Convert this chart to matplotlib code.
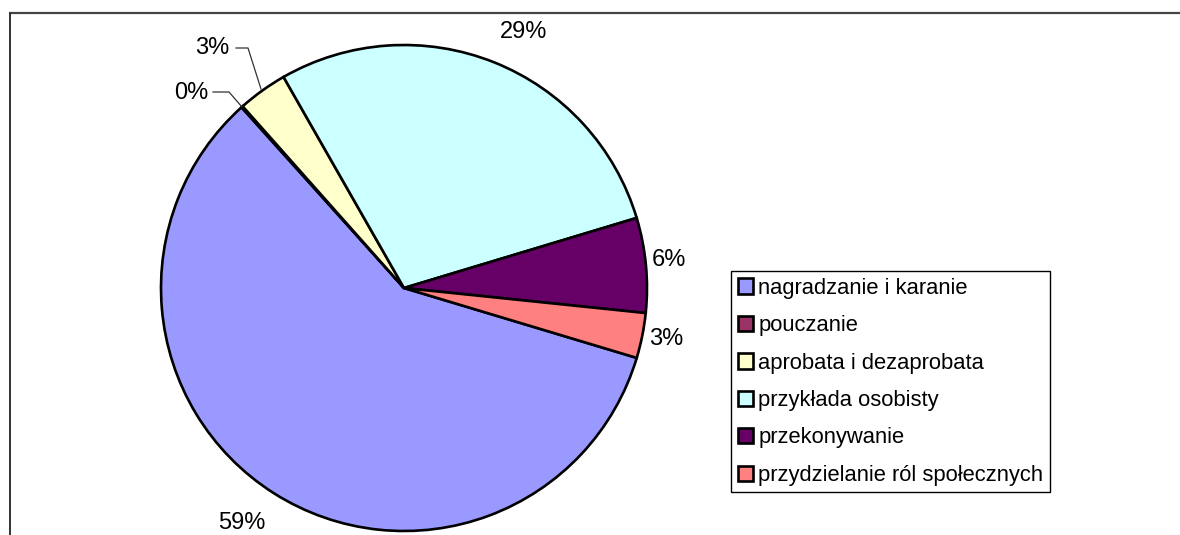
import matplotlib
matplotlib.use('Agg')
import matplotlib.pyplot as plt

plt.rcParams['font.family'] = ['Liberation Sans', 'DejaVu Sans']

# Dane
NAMES = ['nagradzanie i karanie', 'pouczanie', 'aprobata i dezaprobata',
         'przykłada osobisty', 'przekonywanie', 'przydzielanie ról społecznych']
VALUES = [58.7, 0.1, 3.3, 28.6, 6.3, 3.0]
COLORS = ['#9999FF', '#993366', '#FFFFCC', '#CCFFFF', '#660066', '#FF8080']

# Układ (piksele, y od góry)
W, H = 1180, 535
CENTER = (404, 288)
RADIUS = 243
LABEL_POS = [(242, 523), (191, 93), (212, 48), (524, 32), (669, 260), (666, 339)]
LEADERS = {1: [(213, 92), (229, 92), (242, 107)],
           2: [(236, 48), (248, 48), (261, 89)]}

fig = plt.figure(figsize=(W / 100, H / 100), dpi=100)
ax = fig.add_axes([0, 0, 1, 1])

wedges, _ = ax.pie(VALUES, colors=COLORS, startangle=-16.72, counterclock=False,
                   center=(CENTER[0], H - CENTER[1]), radius=RADIUS,
                   wedgeprops=dict(edgecolor='black', linewidth=1.9))

total = sum(VALUES)
for i, v in enumerate(VALUES):
    x, y = LABEL_POS[i]
    ax.text(x, H - y, '{:.0f}%'.format(round(v / total * 100)),
            ha='center', va='center', fontsize=17, color='black')

for i, pts in LEADERS.items():
    ax.plot([p[0] for p in pts], [H - p[1] for p in pts], color='#333333', lw=0.9)

# ramka wykresu
ax.plot([9, W], [H - 13, H - 13], color='#444444', lw=1.6, solid_capstyle='butt')
ax.plot([10, 10], [H - 13, 0], color='#222222', lw=1.3, solid_capstyle='butt')

ax.set_xlim(0, W)
ax.set_ylim(0, H)
ax.set_aspect('auto')
ax.axis('off')

leg = ax.legend(wedges, NAMES, loc='upper left',
                bbox_to_anchor=(731 / W, 1 - 271 / H), bbox_transform=fig.transFigure,
                frameon=True, fancybox=False, framealpha=1, edgecolor='black',
                borderaxespad=0, handlelength=0.7, handleheight=0.7,
                handletextpad=0.25, labelspacing=0.75, borderpad=0.3,
                fontsize=15.8)
leg.get_frame().set_linewidth(1.0)

fig.savefig('out.png', dpi=100)
